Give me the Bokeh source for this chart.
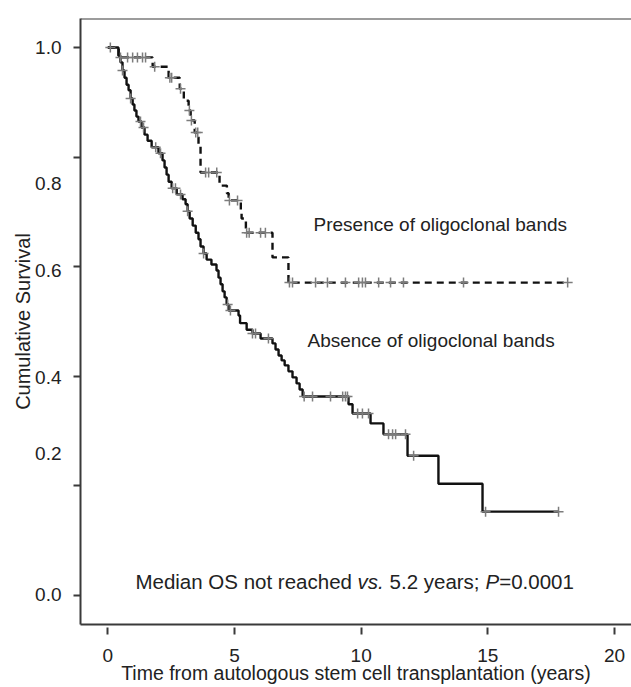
from bokeh.plotting import figure
from bokeh.models import (Label, Span, FixedTicker, Range1d, CustomJSTickFormatter,
                          LinearAxis)
from bokeh.embed import file_html
from bokeh.resources import INLINE

# ---------------- data ----------------
# Absence of oligoclonal bands (solid)
abs_t = [0.00, 0.42, 0.50, 0.58, 0.66, 0.74, 0.82, 0.90, 0.98, 1.05, 1.13, 1.21, 1.33, 1.45,
         1.57, 1.73, 2.00, 2.16, 2.24, 2.32, 2.40, 2.52, 2.72, 2.95, 3.07, 3.15, 3.23, 3.35,
         3.47, 3.58, 3.66, 3.78, 3.90, 4.09, 4.29, 4.37, 4.45, 4.53, 4.61, 4.69, 4.77, 5.16,
         5.22, 5.48, 5.71, 6.03, 6.50, 6.62, 6.74, 6.86, 6.98, 7.13, 7.29, 7.45, 7.57, 7.69,
         9.50, 9.66, 10.37, 10.88, 11.83, 13.05, 14.79]
abs_s = [1.000, 0.985, 0.973, 0.958, 0.945, 0.932, 0.922, 0.907, 0.896, 0.885, 0.874, 0.865,
         0.854, 0.841, 0.830, 0.818, 0.807, 0.794, 0.781, 0.768, 0.755, 0.743, 0.732, 0.723,
         0.714, 0.701, 0.688, 0.675, 0.662, 0.650, 0.637, 0.624, 0.613, 0.604, 0.593, 0.580,
         0.568, 0.555, 0.544, 0.531, 0.520, 0.511, 0.497, 0.485, 0.478, 0.469, 0.460, 0.449,
         0.438, 0.429, 0.420, 0.409, 0.398, 0.387, 0.376, 0.363, 0.349, 0.332, 0.314, 0.294,
         0.255, 0.204, 0.153]
abs_end = 17.79
abs_cens_t = [0.58, 0.90, 1.29, 1.41, 1.89, 2.08, 2.56, 2.67, 2.87, 3.15, 3.78, 4.73, 4.84,
              5.71, 5.83, 6.34, 7.75, 8.08, 8.79, 9.27, 9.38, 9.46, 9.86, 10.05, 10.29,
              11.08, 11.24, 11.36, 11.75, 12.07, 14.91, 17.79]
abs_cens_s = [0.958, 0.907, 0.865, 0.854, 0.818, 0.807, 0.743, 0.743, 0.732, 0.701, 0.624,
              0.531, 0.520, 0.478, 0.478, 0.469, 0.363, 0.363, 0.363, 0.363, 0.363, 0.363,
              0.332, 0.332, 0.332, 0.294, 0.294, 0.294, 0.294, 0.255, 0.153, 0.153]

# Presence of oligoclonal bands (dashed)
pres_t = [0.00, 0.43, 1.77, 2.40, 2.84, 3.00, 3.19, 3.27, 3.43, 3.58, 3.66, 4.41, 4.70,
          4.77, 5.25, 5.28, 5.45, 6.50, 7.13]
pres_s = [1.000, 0.982, 0.965, 0.945, 0.925, 0.903, 0.885, 0.867, 0.845, 0.821, 0.772,
          0.748, 0.734, 0.721, 0.703, 0.688, 0.662, 0.617, 0.571]
pres_end = 18.15
pres_cens_t = [0.10, 0.50, 0.78, 0.98, 1.17, 1.37, 1.49, 1.85, 2.45, 2.52, 2.87, 3.22, 3.30,
               3.47, 3.55, 3.86, 3.98, 4.30, 4.80, 5.12, 5.48, 5.58, 6.03, 6.22, 7.17, 7.29,
               8.20, 8.67, 9.38, 9.90, 10.05, 10.17, 10.69, 11.16, 11.67, 14.04, 18.15]
pres_cens_s = [1.000, 0.982, 0.982, 0.982, 0.982, 0.982, 0.982, 0.965, 0.945, 0.945, 0.925,
               0.885, 0.867, 0.845, 0.845, 0.772, 0.772, 0.772, 0.721, 0.721, 0.662, 0.662,
               0.662, 0.662, 0.571, 0.571, 0.571, 0.571, 0.571, 0.571, 0.571, 0.571, 0.571,
               0.571, 0.571, 0.571, 0.571]

x_ticks = [0, 5, 10, 15, 20]
y_ticks = [0.0, 0.2, 0.4, 0.6, 0.8, 1.0]
y_tick_labels = ["0.0", "0.2", "0.4", "0.6", "0.8", "1.0"]
# where the printed y labels sit in the reference (they are offset from their ticks)
y_label_at = [0.002, 0.259, 0.398, 0.593, 0.752, 1.0]

# ---------------- styling ----------------
FONT = "Liberation Sans"
TXT = "#222222"
AX = "#3a3a3a"
FS = "19px"

p = figure(width=631, height=687, output_backend="svg", toolbar_location=None,
           x_range=Range1d(-1.078, 20.67), y_range=Range1d(-0.053, 1.053),
           min_border_left=80, min_border_right=0, min_border_top=18, min_border_bottom=63)
p.outline_line_color = None
p.grid.visible = False
p.background_fill_color = "white"

# x axis
p.xaxis.ticker = FixedTicker(ticks=x_ticks)
p.xaxis.axis_line_color = AX
p.xaxis.axis_line_width = 2
p.xaxis.major_tick_line_color = AX
p.xaxis.major_tick_line_width = 2
p.xaxis.major_tick_in = -3
p.xaxis.major_tick_out = 10
p.xaxis.minor_tick_line_color = None
p.xaxis.major_label_text_font = FONT
p.xaxis.major_label_text_font_size = FS
p.xaxis.major_label_text_color = TXT
p.xaxis.major_label_standoff = 14
p.xaxis.axis_label = "Time from autologous stem cell transplantation (years)"
p.xaxis.axis_label_text_font = FONT
p.xaxis.axis_label_text_font_size = "19.5px"
p.xaxis.axis_label_text_font_style = "normal"
p.xaxis.axis_label_text_color = TXT
p.xaxis.axis_label_standoff = -3

# y axis: tick marks only
p.yaxis.ticker = FixedTicker(ticks=y_ticks)
p.yaxis.formatter = CustomJSTickFormatter(code="return ''")
p.yaxis.axis_line_color = AX
p.yaxis.axis_line_width = 2
p.yaxis.major_tick_line_color = AX
p.yaxis.major_tick_line_width = 2
p.yaxis.major_tick_in = 0
p.yaxis.major_tick_out = 7
p.yaxis.major_label_standoff = 0
p.yaxis.minor_tick_line_color = None

# second left axis carrying the printed labels where the reference prints them
ylab_axis = LinearAxis(
    ticker=FixedTicker(ticks=y_label_at),
    formatter=CustomJSTickFormatter(args=dict(labels=y_tick_labels), code="return labels[index]"),
    axis_line_color=None, major_tick_line_color=None, minor_tick_line_color=None,
    major_tick_in=0, major_tick_out=0, major_label_standoff=12,
    major_label_text_font=FONT, major_label_text_font_size=FS, major_label_text_color=TXT,
    axis_label="Cumulative Survival", axis_label_text_font=FONT,
    axis_label_text_font_size="20px", axis_label_text_font_style="normal",
    axis_label_text_color=TXT, axis_label_standoff=-2)
p.add_layout(ylab_axis, "left")

# top border of the box
p.add_layout(Span(location=p.y_range.end, dimension="width", line_color=AX, line_width=2))

# curves
p.step(abs_t + [abs_end], abs_s + [abs_s[-1]], mode="after", line_color="#111111", line_width=2.4)
p.step(pres_t + [pres_end], pres_s + [pres_s[-1]], mode="after", line_color="#111111",
       line_width=2.4, line_dash="7 5")
p.scatter(abs_cens_t, abs_cens_s, marker="cross", size=10, line_color="#7c7c7c", line_width=1.5)
p.scatter(pres_cens_t, pres_cens_s, marker="cross", size=10, line_color="#7c7c7c", line_width=1.5)

# annotations
p.add_layout(Label(x=8.12, y=0.677, text="Presence of oligoclonal bands", text_align="left",
                   text_baseline="middle", text_font=FONT, text_font_size=FS, text_color=TXT))
p.add_layout(Label(x=7.88, y=0.465, text="Absence of oligoclonal bands", text_align="left",
                   text_baseline="middle", text_font=FONT, text_font_size=FS, text_color=TXT))

median_parts = [("Median OS not reached", "normal", 1.09), ("vs.", "italic", 9.86),
                ("5.2 years;", "normal", 11.12), ("P", "italic", 14.91), ("=0.0001", "normal", 15.45)]
for txt, style, xx in median_parts:
    p.add_layout(Label(x=xx, y=0.026, text=txt, text_align="left", text_baseline="middle",
                       text_font=FONT, text_font_style=style, text_font_size="20.5px",
                       text_color=TXT))

open("out.html", "w").write(file_html(p, INLINE))
